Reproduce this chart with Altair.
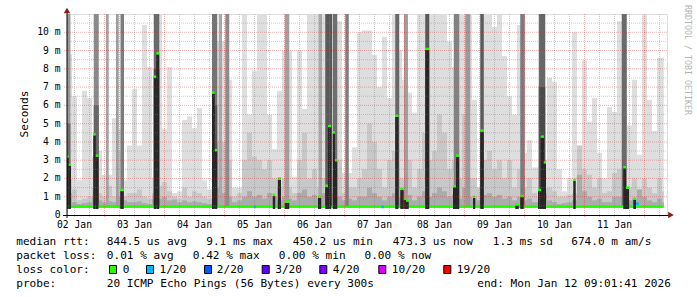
import altair as alt
import pandas as pd

# ------------------------------------------------------------------ data
# time axis: hours after 02 Jan 09:01 (graph start), 2 h smoke bins
END_H = 238.7
SMOKE_BASE = 0.47          # ms, lowest ping (bottom of the smoke)

light_top = [
    8.8, 6.5, 1.9, 6.8, 6.4, 3.2, 3.5, 2.2, 2.2, 5.3,
    4.7, 1.9, 3.8, 6.9, 3.8, 10.4, 8.1, 2.0, 11.0, 4.7,
    8.1, 1.2, 1.3, 5.2, 5.4, 4.75, 5.85, 1.9, 1.4, 2.0,
    9.5, 9.5, 7.4, 1.5, 1.5, 11.0, 5.5, 7.9, 11.0, 11.0,
    5.5, 3.6, 6.8, 9.0, 9.0, 2.1, 9.0, 5.8, 11.0, 11.0,
    11.0, 11.0, 11.0, 11.0, 10.6, 2.3, 2.3, 3.7, 10.0, 10.1,
    10.1, 8.75, 7.0, 9.76, 6.4, 11.0, 9.0, 7.4, 6.7, 5.6,
    11.0, 11.0, 11.0, 11.0, 11.0, 11.0, 9.5, 8.1, 11.0, 11.0,
    11.0, 6.3, 1.5, 11.0, 11.0, 10.3, 11.0, 8.7, 6.5, 5.5,
    10.4, 3.4, 4.1, 2.6, 2.6, 3.0, 7.5, 7.3, 2.5, 1.3,
    2.0, 10.0, 3.8, 8.46, 5.1, 6.4, 3.4, 2.0, 5.9, 5.65,
    10.6, 10.0, 4.9, 7.4, 3.3, 11.0, 6.3, 4.6, 8.6, 8.6,
]
mid_top = [
    2.0, 1.4, 0.8, 0.9, 1.0, 1.5, 1.2, 1.0, 1.6, 1.0,
    3.5, 1.0, 1.2, 1.2, 1.4, 1.0, 0.9, 1.2, 1.6, 1.8,
    1.3, 1.0, 0.9, 1.5, 1.0, 1.3, 1.2, 1.0, 0.9, 2.0,
    4.0, 4.0, 3.0, 1.0, 1.2, 3.0, 4.5, 3.2, 3.0, 2.5,
    3.0, 2.0, 1.5, 2.0, 1.5, 1.2, 3.0, 4.5, 2.0, 2.5,
    1.5, 2.0, 2.0, 2.0, 3.0, 1.2, 1.5, 1.5, 2.0, 2.5,
    5.0, 4.0, 2.5, 1.5, 3.0, 3.5, 2.0, 2.0, 3.0, 1.5,
    2.5, 4.5, 3.0, 3.5, 5.5, 4.5, 2.5, 3.0, 2.0, 5.5,
    2.0, 2.0, 1.5, 3.0, 3.5, 2.5, 3.0, 2.0, 3.0, 1.5,
    2.5, 1.5, 2.0, 1.2, 1.0, 1.5, 1.5, 1.3, 1.0, 1.0,
    1.1, 1.2, 3.8, 2.5, 2.2, 1.5, 2.0, 1.2, 1.3, 2.3,
    2.5, 2.0, 1.5, 2.0, 1.3, 2.0, 1.5, 1.2, 2.0, 1.3,
]
low_top = [
    1.2, 0.7, 0.6, 0.65, 0.7, 1.0, 0.8, 0.7, 0.75, 0.7,
    1.0, 0.8, 0.7, 0.7, 0.75, 0.65, 0.6, 0.9, 0.9, 1.0,
    0.8, 0.85, 0.7, 0.8, 0.7, 0.75, 0.7, 0.65, 0.6, 1.2,
    1.5, 1.2, 1.0, 0.7, 0.8, 1.0, 1.3, 1.0, 1.1, 0.9,
    1.2, 1.0, 0.8, 1.0, 0.9, 0.8, 1.2, 1.4, 1.0, 1.1,
    0.9, 1.2, 1.3, 1.2, 1.0, 0.8, 0.9, 0.8, 1.0, 1.0,
    1.5, 1.2, 1.0, 0.8, 1.0, 1.2, 1.0, 1.0, 1.1, 0.8,
    1.0, 1.3, 1.0, 1.2, 1.5, 1.3, 1.0, 1.1, 0.9, 1.5,
    1.0, 0.9, 0.8, 1.1, 1.2, 1.0, 1.1, 0.9, 1.0, 0.8,
    1.0, 0.8, 0.9, 0.7, 0.7, 1.2, 0.8, 0.7, 0.6, 0.65,
    0.7, 0.8, 2.2, 1.3, 1.0, 0.8, 0.9, 0.7, 0.7, 1.0,
    1.0, 1.5, 0.8, 0.9, 1.4, 1.0, 0.8, 0.7, 0.9, 0.7,
]

# dense smoke columns (many pings slow)
spike_h0 = [0.0, 0.0, 10.7, 10.7, 15.6, 19.6, 21.4, 34.7, 34.7, 58.0, 58.0, 60.7, 63.3,
            87.1, 100.6, 103.3, 106.3, 111.3, 131.3, 134.8, 143.3, 154.7, 159.3,
            165.3, 181.3, 188.7, 188.7, 221.9]
spike_h1 = [1.4, 1.4, 12.7, 12.7, 16.7, 20.7, 22.8, 36.9, 36.9, 60.1, 60.1, 62.0, 64.9,
            88.9, 102.0, 106.0, 108.1, 112.7, 132.9, 136.4, 144.9, 156.9, 161.3,
            166.7, 183.1, 191.3, 191.3, 223.9]
spike_top = [11, 5.0, 11, 6.0, 11, 11, 11, 11, 8.0, 11, 6.0, 11, 11,
             11, 11, 11, 11, 11, 11, 11, 11, 11, 11,
             11, 11, 11, 7.0, 11]
spike_shade = ["#9a9a9a", "#707070", "#8a8a8a", "#666666", "#a3a3a3", "#9e9e9e", "#7c7c7c",
               "#6a6a6a", "#4a4a4a", "#747474", "#555555", "#a8a8a8", "#8c8c8c",
               "#a0a0a0", "#a8a8a8", "#5a5a5a", "#6e6e6e", "#7e7e7e", "#686868", "#a0a0a0",
               "#585858", "#828282", "#9a9a9a", "#5a5a5a", "#7c7c7c", "#666666", "#4a4a4a",
               "#6a6a6a"]

# median rtt when it jumps (ms)
core_h0 = [0.0, 0.7, 10.5, 11.5, 21.3, 34.7, 35.7, 58.0, 59.1, 82.3, 84.3, 87.1, 100.4,
           103.3, 104.4, 106.3, 107.2, 131.3, 133.3, 134.7, 135.6, 143.3, 154.4, 155.6,
           162.4, 165.3, 179.3, 181.3, 188.4, 189.5, 190.7, 202.5, 222.5, 223.6, 226.5]
core_h1 = [0.7, 1.6, 11.5, 12.6, 22.7, 35.7, 36.9, 59.1, 60.1, 83.3, 85.6, 88.9, 101.7,
           104.4, 105.7, 107.2, 108.1, 132.6, 134.7, 135.6, 136.7, 144.9, 155.6, 156.9,
           163.3, 166.7, 180.7, 182.7, 189.7, 190.8, 191.6, 203.5, 223.6, 224.8, 227.6]
core_ms = [3.2, 2.75, 4.42, 3.25, 1.37, 7.57, 8.85, 6.7, 3.55, 1.1, 2.0, 0.73, 1.0,
           1.6, 4.87, 4.52, 3.0, 5.43, 1.43, 0.9, 0.8, 9.09, 1.58, 3.25,
           1.0, 4.62, 0.58, 1.04, 1.37, 4.29, 2.88, 1.93, 2.62, 1.5, 0.89]

# median baseline
median_h0 = [0.0]
median_h1 = [END_H]
median_ms = [0.44]

# samples with 1/20 loss
loss_h0 = [74.7, 125.7, 227.6]
loss_h1 = [75.6, 126.8, 228.8]
loss_ms = [0.44, 0.44, 0.62]

# legend
loss_labels = ["0", "1/20", "2/20", "3/20", "4/20", "10/20", "19/20"]
loss_colors = ["#26ff00", "#00b8ff", "#0059ff", "#5e00ff", "#7e00ff", "#dd00ff", "#ff0000"]

# axis labels
day_label_hours = [3 + 24 * d for d in range(10)]
day_labels = ["02 Jan", "03 Jan", "04 Jan", "05 Jan", "06 Jan",
              "07 Jan", "08 Jan", "09 Jan", "10 Jan", "11 Jan"]
ms_ticks = list(range(0, 11))
ms_labels = ["0\u00a0\u00a0"] + [f"{k} m" for k in range(1, 11)]

# ------------------------------------------------------------------ layout
W, H = 600, 201
OX, OY = 67, 14            # plot origin in the page
FONT = "DejaVu Sans Mono"

xs = alt.Scale(domain=[0, 240], nice=False, zero=False)
ys = alt.Scale(domain=[0, 11], nice=False, zero=True)

n = len(light_top)
bins = pd.DataFrame({
    "h0": [2 * i for i in range(n)],
    "h1": [min(2 * i + 2, END_H) for i in range(n)],
    "base": [SMOKE_BASE] * n,
    "light": light_top, "mid": mid_top, "low": low_top,
})


def rect_layer(df, lo, hi, **mark):
    return alt.Chart(df).mark_rect(clip=True, **mark).encode(
        x=alt.X("h0:Q", scale=xs, axis=None), x2="h1",
        y=alt.Y(f"{lo}:Q", scale=ys, axis=None), y2=hi)


light = rect_layer(bins, "base", "light", color="#dedede")
mid = rect_layer(bins, "base", "mid", color="#c8c8c8")
low = rect_layer(bins, "base", "low", color="#ababab")

spikes_df = pd.DataFrame({"h0": spike_h0, "h1": spike_h1, "top": spike_top,
                          "shade": spike_shade, "base": [SMOKE_BASE] * len(spike_h0)})
spikes = alt.Chart(spikes_df).mark_rect(clip=True).encode(
    x=alt.X("h0:Q", scale=xs, axis=None), x2="h1",
    y=alt.Y("base:Q", scale=ys, axis=None), y2="top",
    color=alt.Color("shade:N", scale=None))

cores_df = pd.DataFrame({"h0": core_h0, "h1": core_h1, "ms": core_ms})
cores_df["lo"] = 0.33
cores_df["m0"] = cores_df["ms"] - 0.065
cores_df["m1"] = cores_df["ms"] + 0.065

med_df = pd.DataFrame({"h0": median_h0, "h1": median_h1, "ms": median_ms})
med_df["m0"] = med_df["ms"] - 0.06
med_df["m1"] = med_df["ms"] + 0.06

loss_df = pd.DataFrame({"h0": loss_h0, "h1": loss_h1, "ms": loss_ms})
loss_df["m0"] = loss_df["ms"] - 0.07
loss_df["m1"] = loss_df["ms"] + 0.07

median = rect_layer(med_df, "m0", "m1", color="#26ff00")
cores = rect_layer(cores_df, "lo", "m0", color="#262626")
marks = rect_layer(cores_df, "m0", "m1", color="#26ff00")
loss = rect_layer(loss_df, "m0", "m1", color="#00b8ff")

# grid
minor_v = pd.DataFrame({"h": [h for h in range(3, 240, 6) if (h + 9) % 24 != 0]})
major_v = pd.DataFrame({"h": [h for h in range(3, 240, 6) if (h + 9) % 24 == 0]})
minor_h = pd.DataFrame({"v": [k + 0.5 for k in range(11)]})
major_h = pd.DataFrame({"v": [k for k in range(1, 11)]})
MINOR = "rgba(128,128,128,0.4)"
MAJOR = "rgba(210,40,40,0.36)"
g1 = alt.Chart(minor_v).mark_rule(color=MINOR, strokeDash=[1, 1], strokeWidth=1).encode(
    x=alt.X("h:Q", scale=xs, axis=None), y=alt.value(0), y2=alt.value(H + 2))
g2 = alt.Chart(major_v).mark_rule(color=MAJOR, strokeDash=[1, 1], strokeWidth=1).encode(
    x=alt.X("h:Q", scale=xs, axis=None), y=alt.value(0), y2=alt.value(H + 3))
g3 = alt.Chart(minor_h).mark_rule(color=MINOR, strokeDash=[1, 1], strokeWidth=1).encode(
    y=alt.Y("v:Q", scale=ys, axis=None), x=alt.value(0), x2=alt.value(W))
g4 = alt.Chart(major_h).mark_rule(color=MAJOR, strokeDash=[1, 1], strokeWidth=1).encode(
    y=alt.Y("v:Q", scale=ys, axis=None), x=alt.value(-3), x2=alt.value(W))

# axes drawn by hand: lines + labels
one = pd.DataFrame({"a": [0]})
x_line = alt.Chart(one).mark_rule(color="#000", strokeWidth=1).encode(
    x=alt.value(-4), x2=alt.value(W + 2), y=alt.value(H + 0.5))
y_line = alt.Chart(one).mark_rule(color="#000", strokeWidth=1).encode(
    x=alt.value(0.0), y=alt.value(-3), y2=alt.value(H + 3))
xlab_df = pd.DataFrame({"h": day_label_hours, "lab": day_labels})
x_labels = alt.Chart(xlab_df).mark_text(font=FONT, fontSize=9.7, align="center",
                                        baseline="middle", color="#000").encode(
    x=alt.X("h:Q", scale=xs, axis=None), y=alt.value(224.5 - OY), text="lab:N")
ylab_df = pd.DataFrame({"v": ms_ticks, "lab": ms_labels})
y_labels = alt.Chart(ylab_df).mark_text(font=FONT, fontSize=9.7, align="right",
                                        baseline="middle", color="#000").encode(
    y=alt.Y("v:Q", scale=ys, axis=None), x=alt.value(60.5 - OX), text="lab:N")

# arrows
arr_x = alt.Chart(one).mark_point(shape="triangle-right", filled=True, size=42,
                                  color="#8b1a1a", opacity=1).encode(
    x=alt.value(671 - OX), y=alt.value(215 - OY))
arr_y = alt.Chart(one).mark_point(shape="triangle-up", filled=True, size=42,
                                  color="#8b1a1a", opacity=1).encode(
    x=alt.value(67 - OX), y=alt.value(10.5 - OY))

# legend / statistics text
txt_rows = [
    ("median rtt:", 16.2, 244.5), ("844.5 us avg", 106.8, 244.5), ("9.1 ms max", 206.2, 244.5),
    ("450.2 us min", 292.8, 244.5), ("473.3 us now", 392.8, 244.5), ("1.3 ms sd", 492.8, 244.5),
    ("674.0 m am/s", 571.2, 244.5),
    ("packet loss:", 16.2, 258.5), ("0.01 % avg", 106.8, 258.5), ("0.42 % max", 192.8, 258.5),
    ("0.00 % min", 278.8, 258.5), ("0.00 % now", 364.5, 258.5),
    ("loss color:", 16.2, 272.5),
    ("probe:", 16.2, 286.5), ("20 ICMP Echo Pings (56 Bytes) every 300s", 106.8, 286.5),
    ("end: Mon Jan 12 09:01:41 2026", 477.2, 286.5),
]
label_x = [122.8, 159.5, 216.8, 275.2, 332.8, 391.8, 456.8]
box_x = [109.0, 146.0, 204.0, 261.7, 319.3, 378.3, 443.3]
for lab, lx in zip(loss_labels, label_x):
    txt_rows.append((lab, lx, 272.5))

texts = [
    alt.Chart(one).mark_text(text=t, font=FONT, fontSize=11.1, align="left",
                             baseline="alphabetic", color="#000").encode(
        x=alt.value(px - OX), y=alt.value(py - OY))
    for t, px, py in txt_rows
]
boxes = [
    alt.Chart(one).mark_rect(fill=c, stroke="#000", strokeWidth=1).encode(
        x=alt.value(bx - OX + 0.5), x2=alt.value(bx - OX + 7.5),
        y=alt.value(265.5 - OY), y2=alt.value(273.5 - OY))
    for c, bx in zip(loss_colors, box_x)
]

ylabel = alt.Chart(one).mark_text(text="Seconds", font=FONT, fontSize=11.1, angle=270,
                                  align="center", baseline="middle", color="#000").encode(
    x=alt.value(25 - OX), y=alt.value(114 - OY))
water = alt.Chart(one).mark_text(text="RRDTOOL / TOBI OETIKER", font=FONT, fontSize=8.3, angle=90,
                                 align="left", baseline="middle", color="#b4b4b4").encode(
    x=alt.value(687 - OX), y=alt.value(5 - OY))

chart = alt.layer(
    light, mid, low, spikes, median, cores, marks, loss,
    g1, g2, g3, g4, x_line, y_line, x_labels, y_labels,
    arr_x, arr_y, *texts, *boxes, ylabel, water,
).properties(
    width=W, height=H,
    padding={"left": OX, "top": OY, "right": 697 - OX - W, "bottom": 297 - OY - H},
    autosize=alt.AutoSizeParams(type="none"),
).configure_view(stroke=None).configure(background="white")

chart.save("out.html", embed_options={"renderer": "svg", "actions": False})
